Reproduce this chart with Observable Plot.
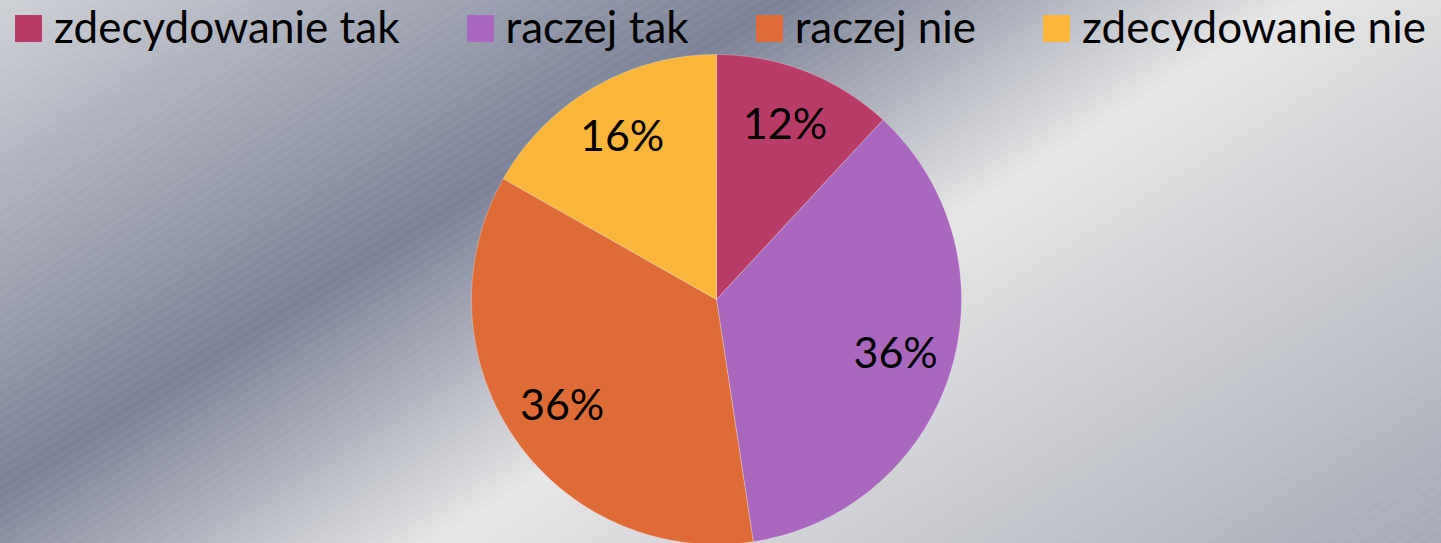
<!DOCTYPE html>
<html>
<head>
<meta charset="utf-8">
<script src="https://cdn.jsdelivr.net/npm/d3@7"></script>
<script src="https://cdn.jsdelivr.net/npm/@observablehq/plot@0.6"></script>
<style>
html, body { margin: 0; padding: 0; width: 1441px; height: 543px; overflow: hidden; }
#wrap {
  position: relative; width: 1441px; height: 543px; overflow: hidden;
  background: linear-gradient(148deg, #cfd1d7 0%, #7b8197 34%, #e6e6e6 56.5%, #a6aab6 100%);
  font-family: Lato, "Open Sans", sans-serif;
}
#stripes {
  position: absolute; left: 0; top: 0; right: 0; bottom: 0; pointer-events: none;
  background: repeating-linear-gradient(148deg, rgba(255,255,255,0.03) 0px, rgba(255,255,255,0.03) 4px, rgba(0,0,0,0) 4px, rgba(0,0,0,0) 8px);
}
#legend {
  position: relative; height: 50px; box-sizing: border-box; padding-top: 0px;
  display: flex; justify-content: center; align-items: flex-start; gap: 67px;
}
.item { display: flex; align-items: flex-start; }
.sw { width: 27px; height: 27px; margin-top: 15px; margin-right: 12px; flex: none; }
.lab { font-size: 44px; line-height: normal; color: #000; white-space: nowrap; }
#chart { position: relative; }
</style>
</head>
<body>
<div id="wrap">
  <div id="stripes"></div>
  <div id="legend"></div>
  <div id="chart"></div>
</div>
<script>
// ---- data ----
const categories = ["zdecydowanie tak", "raczej tak", "raczej nie", "zdecydowanie nie"];
const shares = [11.9, 35.7, 35.6, 16.8];
const labels = ["12%", "36%", "36%", "16%"];
const colors = ["#b93c68", "#a967bd", "#df6c37", "#f9b63b"];

// ---- layout ----
const W = 1441, H = 493;
const CX = 716, CY = 249, R = 245;
const LABEL_RADIUS = 0.765;

// legend (HTML, above the SVG)
const legend = document.getElementById("legend");
categories.forEach((c, i) => {
  const item = document.createElement("div");
  item.className = "item";
  const sw = document.createElement("div");
  sw.className = "sw";
  sw.style.background = colors[i];
  const lab = document.createElement("div");
  lab.className = "lab";
  lab.textContent = c;
  item.appendChild(sw);
  item.appendChild(lab);
  legend.appendChild(item);
});

// pie geometry from the data (unit circle, y up, clockwise from 12 o'clock)
const rows = categories.map((c, i) => ({key: c, value: shares[i], label: labels[i]}));
const arcs = d3.pie().sort(null).value(d => d.value).startAngle(0).endAngle(2 * Math.PI)(rows);

const polyPts = [];
arcs.forEach(a => {
  const k = a.data.key;
  polyPts.push({key: k, x: 0, y: 0});
  const n = Math.max(8, Math.ceil((a.endAngle - a.startAngle) / (Math.PI / 360)));
  for (let j = 0; j <= n; j++) {
    const t = a.startAngle + (a.endAngle - a.startAngle) * j / n;
    polyPts.push({key: k, x: Math.sin(t), y: Math.cos(t)});
  }
  polyPts.push({key: k, x: 0, y: 0});
});

const labelPts = arcs.map(a => {
  const m = (a.startAngle + a.endAngle) / 2;
  return {key: a.data.key, text: a.data.label, x: LABEL_RADIUS * Math.sin(m), y: LABEL_RADIUS * Math.cos(m)};
});

const plot = Plot.plot({
  width: W,
  height: H,
  marginTop: 0, marginRight: 0, marginBottom: 0, marginLeft: 0,
  x: {domain: [-CX / R, (W - CX) / R], axis: null},
  y: {domain: [-(H - CY) / R, CY / R], axis: null},
  color: {domain: categories, range: colors},
  style: {background: "transparent", overflow: "visible", fontFamily: "Lato, 'Open Sans', sans-serif"},
  marks: [
    Plot.line(polyPts, {x: "x", y: "y", z: "key", fill: "key", stroke: "#ffffff", strokeOpacity: 0.35, strokeWidth: 0.75, curve: "linear-closed"}),
    Plot.text(labelPts, {x: "x", y: "y", text: "text", fill: "#000000", fontSize: 43, fontFamily: "Lato, 'Open Sans', sans-serif"})
  ]
});
document.getElementById("chart").appendChild(plot);
</script>
</body>
</html>
